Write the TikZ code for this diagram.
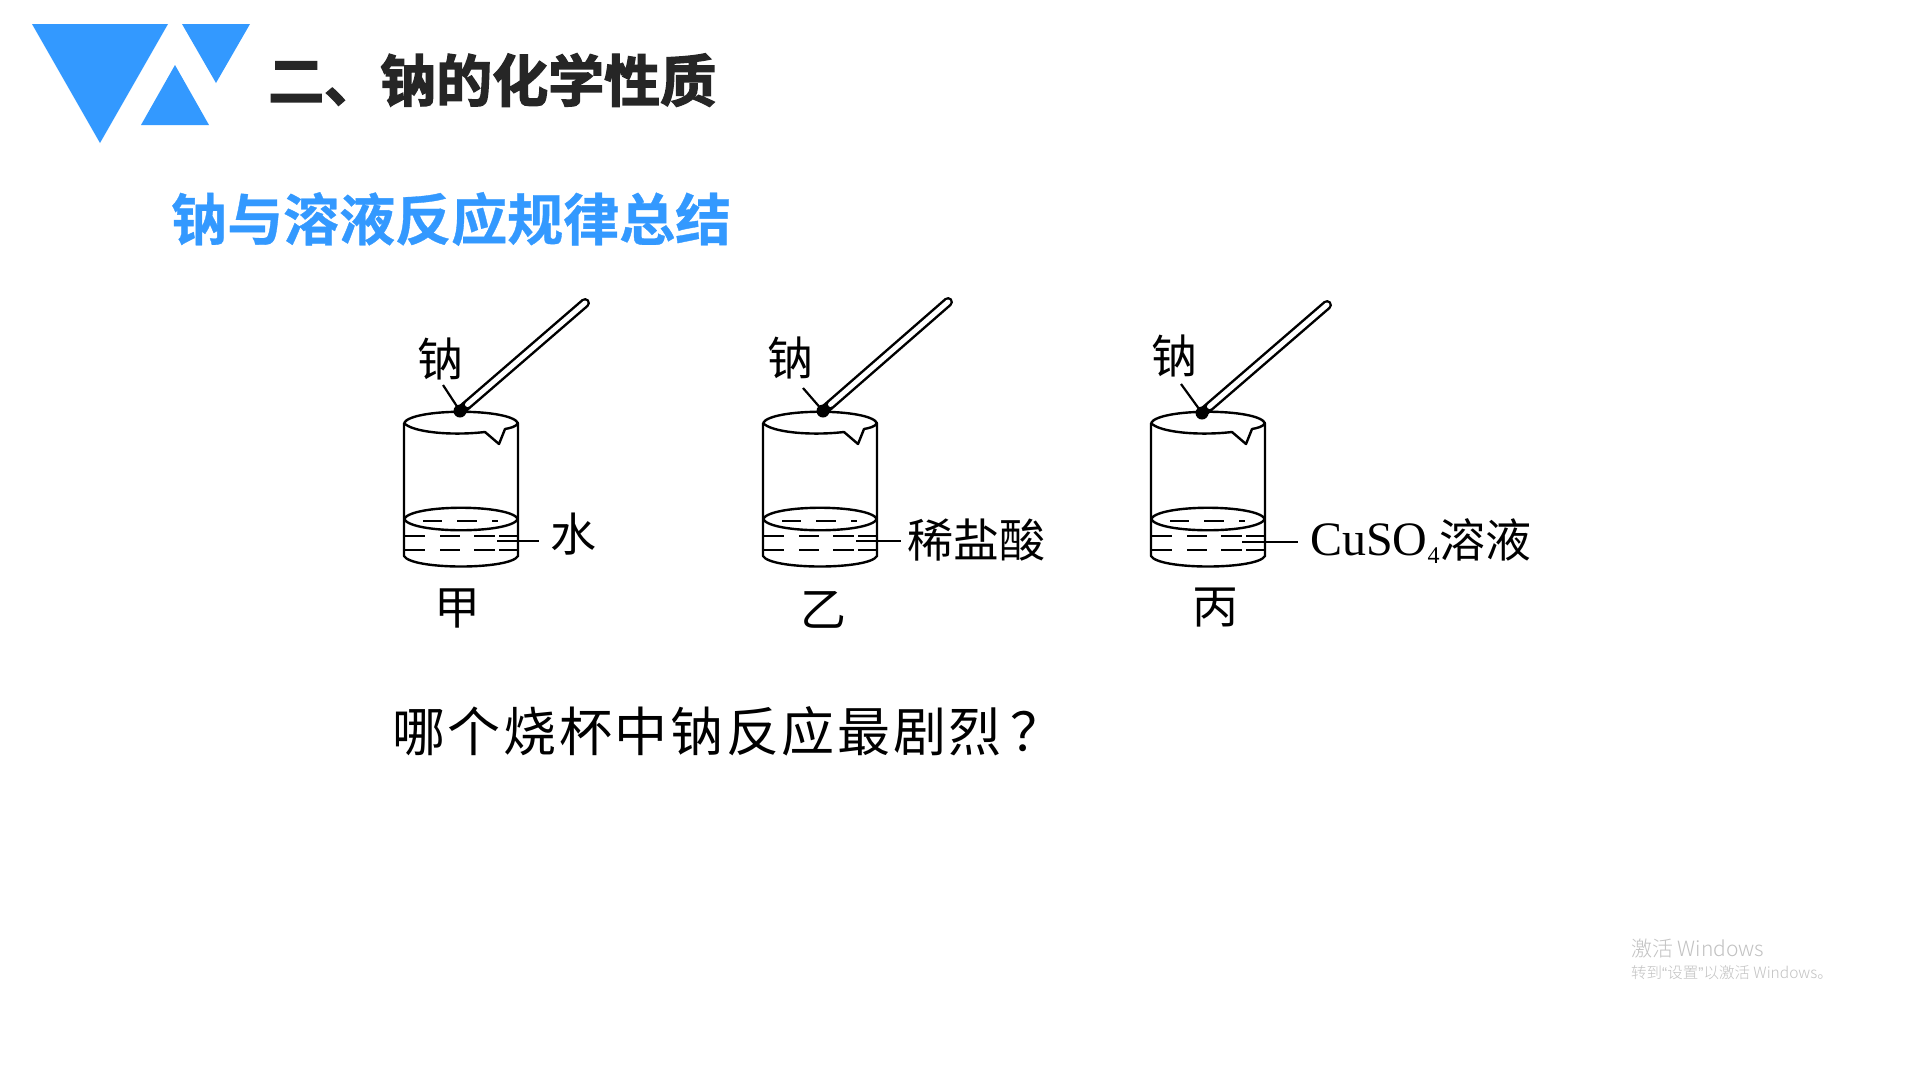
\documentclass[tikz,border=0pt]{standalone}
\usetikzlibrary{calc}
\usepackage{fontspec}
\setmainfont{Liberation Serif}
\newfontfamily\cjklab{Noto Sans CJK SC}
\newfontfamily\cjkthin[UprightFont={* Light}]{Noto Sans CJK SC}
\newfontfamily\cjkbold[FakeBold=2.5]{Noto Sans CJK SC Bold}
\newfontfamily\cjksub[FakeBold=0.6]{Noto Sans CJK SC Bold}
\newfontfamily\cjkques[LetterSpace=5]{Noto Sans CJK SC}
\newfontfamily\narrowq{Liberation Sans}
\definecolor{brandblue}{HTML}{3399FF}
\definecolor{titleink}{HTML}{262626}
\definecolor{wmgray}{HTML}{C2C2C2}
\newcommand{\fsz}[1]{\fontsize{#1}{#1}\selectfont}
\tikzset{
  lab/.style={inner sep=0pt,text=black,font=\cjklab\fsz{46}},
  glass/.style={draw=black,line width=2.4pt,line join=round},
  liquid/.style={draw=black,line width=1.7pt},
  rodout/.style={draw=black,line width=10pt,line cap=round},
  rodin/.style={draw=white,line width=5pt,line cap=round},
  sodium/.style={circle,fill=black,inner sep=0pt,minimum size=13pt},
  lead/.style={draw=black,line width=2.2pt},
  beaker/.pic={
    \draw[glass] (404,423) .. controls (412,408) and (510,408) .. (518,423)
      .. controls (516,427) and (510,428) .. (505,429) -- (499,444) -- (485,432)
      .. controls (450,436) and (412,432) .. (404,423);
    \draw[glass] (404,423) -- (404,556) .. controls (412,570) and (510,570) .. (518,556) -- (518,423);
    \draw[glass] (404,519) .. controls (412,504) and (510,504) .. (518,519)
      .. controls (510,534) and (412,534) .. (404,519);
    \foreach \a/\b in {423/442,457/477,492/498} \draw[liquid] (\a,521) -- (\b,521);
    \foreach \yy in {536,550} \foreach \a/\b in {404/425,440/460,474/495,499/518} \draw[liquid] (\a,\yy) -- (\b,\yy);
  }
}
\begin{document}
\begin{tikzpicture}[x=1pt,y=-1pt]
\useasboundingbox (0,0) rectangle (1920,1080);
\fill[white] (0,0) rectangle (1920,1080);
% logo
\fill[brandblue] (32,24) -- (168,24) -- (100,143) -- cycle;
\fill[brandblue] (182,24) -- (250,24) -- (216,83) -- cycle;
\fill[brandblue] (175,65) -- (209,125) -- (141,125) -- cycle;
% headings
\node[anchor=west,inner sep=0pt,text=titleink,font=\cjkbold\fsz{56}] (title) at (268,80) {二、钠的化学性质};
\node[anchor=west,inner sep=0pt,text=brandblue,font=\cjksub\fsz{56}] (subtitle) at (171,219) {钠与溶液反应规律总结};
% beakers
\pic (ba) at (0,0) {beaker};
\pic (bb) at (359,0) {beaker};
\pic (bc) at (747,0) {beaker};
% sodium on rods
\coordinate (dotA) at (460,411); \coordinate (endA) at (585,303); \coordinate (tagA) at (443,385);
\coordinate (dotB) at (823,411); \coordinate (endB) at (948,302); \coordinate (tagB) at (803,388);
\coordinate (dotC) at (1202,413); \coordinate (endC) at (1327,305); \coordinate (tagC) at (1181,384);
\foreach \k in {A,B,C} {
  \draw[rodout] (dot\k) -- (end\k);
  \draw[rodin] ($(dot\k)!0.06!(end\k)$) -- (end\k);
  \draw[lead] (tag\k) -- (dot\k);
  \node[sodium] (na\k) at (dot\k) {};
}
% liquid leaders
\coordinate (wa) at (497,541); \coordinate (wb) at (856,541); \coordinate (wc) at (1242,542);
\node[lab] (shui) at (573,534) {水};
\node[lab,anchor=center] (hcl) at (976,540) {稀盐酸};
\node[anchor=base west,inner sep=0pt,font=\fsz{48}] (cuso) at (1310,555) {CuSO\raisebox{-8pt}{\fsz{24}4}\raisebox{-2pt}{\cjklab\fsz{46}溶液}};
\coordinate (ea) at (539,541); \coordinate (eb) at (901,541); \coordinate (ec) at (1298,542);
\draw[lead] (wa) -- (ea);
\draw[lead] (wb) -- (eb);
\draw[lead] (wc) -- (ec);
% labels
\node[lab] (l1) at (440,359) {钠};
\node[lab] (l2) at (790,358) {钠};
\node[lab] (l3) at (1174,356) {钠};
\node[lab] (jia) at (457,608) {甲};
\node[lab] (yi) at (823,610) {乙};
\node[lab] (bing) at (1215,608) {丙};
% question
\node[anchor=west,inner sep=0pt,text=black,font=\cjkques\fsz{53}] (q) at (392,731) {哪个烧杯中钠反应最剧烈\hspace{9pt}？};
% watermark
\node[anchor=west,inner sep=0pt,text=wmgray,font=\cjkthin\fsz{21}] (wm1) at (1631,949) {激活 Windows};
\node[anchor=west,inner sep=0pt,text=wmgray,font=\cjkthin\fsz{15.5}] (wm2) at (1631,973) {转到{\narrowq “}设置{\narrowq ”}以激活 Windows。};
\end{tikzpicture}
\end{document}
